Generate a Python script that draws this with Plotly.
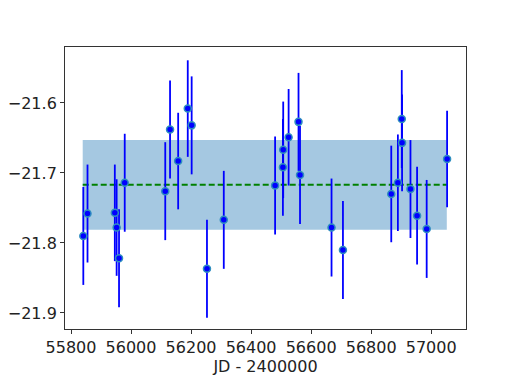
import plotly.graph_objects as go

# observations (JD - 2400000), magnitude and error
jd = [55841, 55855, 55946, 55952, 55960, 55979, 56114, 56130, 56157, 56189,
      56202, 56253, 56309, 56480, 56506, 56507, 56525, 56558, 56563, 56668,
      56706, 56867, 56889, 56902, 56903, 56931, 56953, 56985, 57053]
mag = [-21.790, -21.758, -21.757, -21.778, -21.822, -21.714, -21.726, -21.638,
       -21.683, -21.608, -21.632, -21.837, -21.767, -21.718, -21.692, -21.667,
       -21.649, -21.627, -21.703, -21.778, -21.810, -21.730, -21.714, -21.623,
       -21.657, -21.723, -21.761, -21.780, -21.680]
err = [0.070, 0.070, 0.069, 0.069, 0.070, 0.070, 0.070, 0.070, 0.069, 0.069,
       0.070, 0.070, 0.070, 0.070, 0.069, 0.069, 0.069, 0.070, 0.070, 0.070,
       0.070, 0.069, 0.069, 0.070, 0.069, 0.070, 0.070, 0.070, 0.069]

# mean and its spread
band_x = [55839, 57052]
mean_mag = -21.717
band_lo = -21.781
band_hi = -21.653

xtick_vals = [55800, 56000, 56200, 56400, 56600, 56800, 57000]
xtick_text = ["55800", "56000", "56200", "56400", "56600", "56800", "57000"]
ytick_vals = [-21.9, -21.8, -21.7, -21.6]
ytick_text = ["\u221221.9", "\u221221.8", "\u221221.7", "\u221221.6"]

fig = go.Figure()

fig.add_trace(go.Scatter(
    x=[band_x[0], band_x[1], band_x[1], band_x[0]],
    y=[band_lo, band_lo, band_hi, band_hi],
    fill="toself", fillcolor="#a5c8e1", mode="none", hoverinfo="skip"))

fig.add_trace(go.Scatter(
    x=band_x, y=[mean_mag, mean_mag], mode="lines",
    line=dict(color="#008000", width=2, dash="6px,3px")))

fig.add_trace(go.Scatter(
    x=jd, y=mag, mode="markers",
    marker=dict(color="blue", size=7, line=dict(color="#2f8fbf", width=1.5)),
    error_y=dict(type="data", array=err, color="blue", thickness=1.8, width=0)))

axis_common = dict(showgrid=False, zeroline=False, showline=True, mirror=True,
                   linecolor="#333333", linewidth=1, ticks="outside",
                   ticklen=4, tickwidth=1, tickcolor="#333333",
                   automargin=False,
                   tickfont=dict(size=16, color="#222222"))

# the page body has an 8px margin, so the plot area is offset to compensate
fig.update_layout(
    width=518, height=388,
    margin=dict(l=57, r=60, t=39, b=67),
    plot_bgcolor="white", paper_bgcolor="white",
    showlegend=False,
    font=dict(family="DejaVu Sans", color="#222222"),
    xaxis=dict(range=[55780, 57116], tickvals=xtick_vals, ticktext=xtick_text,
               title=dict(text="JD - 2400000", font=dict(size=16), standoff=4),
               **axis_common),
    yaxis=dict(range=[-21.923, -21.52], tickvals=ytick_vals, ticktext=ytick_text,
               **axis_common),
)

fig.write_html("out.html")
